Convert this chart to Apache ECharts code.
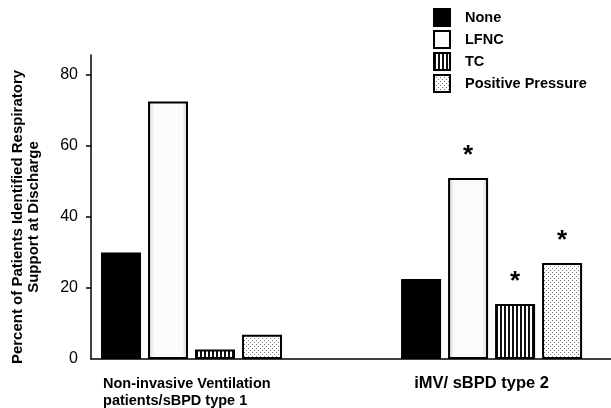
<!DOCTYPE html>
<html>
<head>
<meta charset="utf-8">
<script src="https://cdn.jsdelivr.net/npm/echarts@6/dist/echarts.min.js"></script>
<style>
html,body{margin:0;padding:0;background:#fff;}
#chart{width:611px;height:408px;}
</style>
</head>
<body>
<div id="chart"></div>
<script>
// ---- data ----
var categories = ['Non-invasive Ventilation\npatients/sBPD type 1', 'iMV/ sBPD type 2'];
var categoryPos = [1, 2];
var seriesNames = ['None', 'LFNC', 'TC', 'Positive Pressure'];
var noneValues = [30, 22.5];
var lfncValues = [72.5, 51];
var tcValues = [2.7, 15.5];
var ppValues = [6.8, 27];
var noneSig = [false, false];
var lfncSig = [false, true];
var tcSig = [false, true];
var ppSig = [false, true];
var yTickLabels = [0, 20, 40, 60, 80];
var yTickMarks = [20, 40, 60, 80];
var yTitle = 'Percent of Patients Identified Respiratory\nSupport at Discharge';

// ---- patterns ----
function makeStripe() {
  var c = document.createElement('canvas'); c.width = 4; c.height = 4;
  var g = c.getContext('2d');
  g.fillStyle = '#fff'; g.fillRect(0, 0, 4, 4);
  g.fillStyle = '#111'; g.fillRect(0, 0, 2, 4);
  return c;
}
function makeDots() {
  var c = document.createElement('canvas'); c.width = 4; c.height = 4;
  var g = c.getContext('2d');
  g.fillStyle = '#fff'; g.fillRect(0, 0, 4, 4);
  g.fillStyle = '#777'; g.fillRect(0, 0, 1, 1); g.fillRect(2, 2, 1, 1);
  return c;
}
var lfncFill = new echarts.graphic.LinearGradient(0, 0, 1, 0, [
  {offset: 0, color: '#cfcfcf'}, {offset: 0.15, color: '#fbfbfb'},
  {offset: 0.85, color: '#fbfbfb'}, {offset: 1, color: '#cfcfcf'}
]);
var fills = ['#000', lfncFill, {image: makeStripe(), repeat: 'repeat'}, {image: makeDots(), repeat: 'repeat'}];
var valueSets = [noneValues, lfncValues, tcValues, ppValues];
var sigSets = [noneSig, lfncSig, tcSig, ppSig];

var FONT = 'Liberation Sans, Arial, sans-serif';
var Y_MAX = 85.6;

var series = seriesNames.map(function (name, si) {
  return {
    name: name,
    type: 'bar',
    barWidth: 40,
    barGap: '17.5%',
    itemStyle: {color: fills[si], borderColor: '#000', borderWidth: 2},
    data: valueSets[si].map(function (v, ci) {
      return {
        value: [categoryPos[ci], v],
        label: {
          show: sigSets[si][ci],
          position: 'top',
          distance: 9,
          formatter: '*',
          fontSize: 26,
          fontWeight: 'bold',
          color: '#000',
          fontFamily: FONT
        }
      };
    })
  };
});

var chart = echarts.init(document.getElementById('chart'), null, {renderer: 'canvas'});
var option = {
  animation: false,
  backgroundColor: '#fff',
  grid: {left: 91, right: 0, top: 55, bottom: 49},
  legend: {
    orient: 'vertical',
    left: 433,
    top: 8,
    padding: 0,
    icon: 'rect',
    itemWidth: 16,
    itemHeight: 17,
    itemGap: 3,
    data: seriesNames,
    textStyle: {fontFamily: FONT, fontWeight: 'bold', fontSize: 14.5, lineHeight: 17, color: '#000', padding: [0, 0, 0, 10]}
  },
  xAxis: {
    type: 'value',
    min: 0.665,
    max: 2.398,
    axisLine: {show: true, onZero: false, lineStyle: {color: '#000', width: 1.5}},
    axisTick: {show: false},
    axisLabel: {show: false},
    splitLine: {show: false}
  },
  yAxis: {
    type: 'value',
    min: 0,
    max: Y_MAX,
    interval: 20,
    axisLine: {show: true, lineStyle: {color: '#000', width: 1.5}},
    axisTick: {show: true, customValues: yTickMarks, length: 5, lineStyle: {color: '#000', width: 1.5}},
    axisLabel: {customValues: yTickLabels, margin: 13, fontFamily: FONT, fontSize: 16, color: '#000'},
    splitLine: {show: false}
  },
  series: series
};
chart.setOption(option);

var x1 = chart.convertToPixel({xAxisIndex: 0}, categoryPos[0]);
var x2 = chart.convertToPixel({xAxisIndex: 0}, categoryPos[1]);
chart.setOption({
  graphic: [{
    type: 'text',
    x: 26, y: 217,
    rotation: Math.PI / 2,
    style: {
      text: yTitle, fontFamily: FONT, fontWeight: 'bold', fontSize: 15, lineHeight: 16,
      fill: '#000', align: 'center', verticalAlign: 'middle'
    }
  }, {
    type: 'text',
    x: x1 - 88.5, y: 375,
    style: {
      text: categories[0], fontFamily: FONT, fontWeight: 'bold', fontSize: 14.5, lineHeight: 17,
      fill: '#000', align: 'left', verticalAlign: 'top'
    }
  }, {
    type: 'text',
    x: x2 - 10, y: 374,
    style: {
      text: categories[1], fontFamily: FONT, fontWeight: 'bold', fontSize: 16.5, lineHeight: 18,
      fill: '#000', align: 'center', verticalAlign: 'top'
    }
  }]
});
</script>
</body>
</html>
